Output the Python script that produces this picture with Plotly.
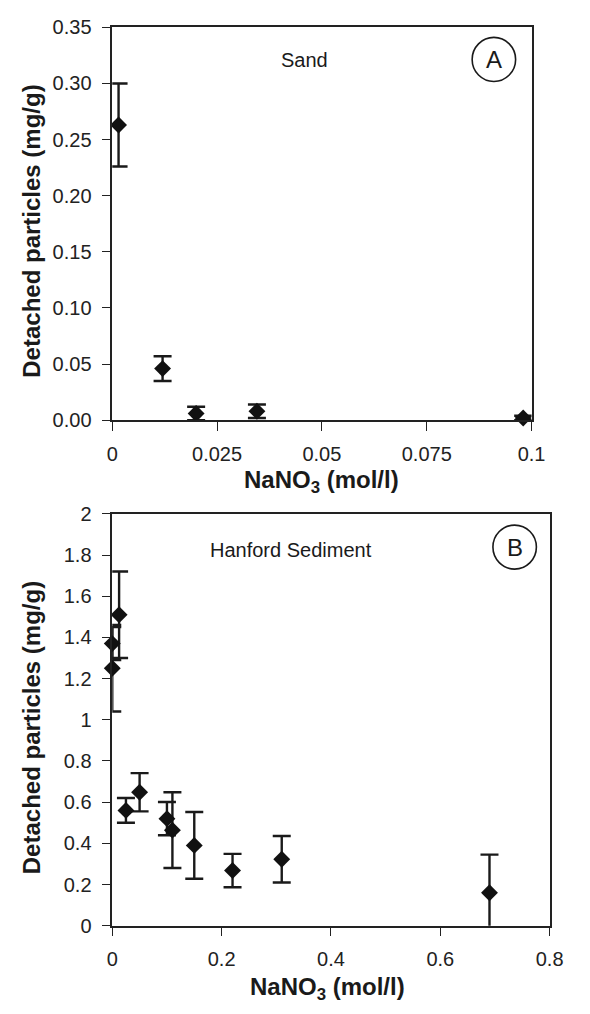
import plotly.graph_objects as go

# Panel A: Sand
sand_x = [0.0015, 0.012, 0.020, 0.0345, 0.098]
sand_y = [0.263, 0.046, 0.006, 0.008, 0.002]
sand_err = [0.037, 0.011, 0.006, 0.006, 0.002]

# Panel B: Hanford Sediment
hs_x = [0.0, 0.0, 0.0125, 0.025, 0.05, 0.10, 0.11, 0.15, 0.22, 0.31, 0.69]
hs_y = [1.37, 1.25, 1.51, 0.56, 0.648, 0.52, 0.464, 0.39, 0.268, 0.323, 0.16]
hs_err = [0.08, 0.21, 0.21, 0.06, 0.093, 0.081, 0.184, 0.162, 0.081, 0.113, 0.185]

a_xticks = [0, 0.025, 0.05, 0.075, 0.1]
a_xticktext = ["0", "0.025", "0.05", "0.075", "0.1"]
a_yticks = [0, 0.05, 0.10, 0.15, 0.20, 0.25, 0.30, 0.35]
b_xticks = [0, 0.2, 0.4, 0.6, 0.8]
b_yticks = [0, 0.2, 0.4, 0.6, 0.8, 1.0, 1.2, 1.4, 1.6, 1.8, 2.0]

W, H = 590, 1014
FONT = "Liberation Sans, Arial, sans-serif"

def px_x(p):
    return p / W

def px_y(p):
    return 1 - p / H

fig = go.Figure()

marker = dict(symbol="diamond", size=13, color="#111111")
errstyle = dict(type="data", visible=True, thickness=2.4, width=9, color="#1a1a1a")

fig.add_trace(go.Scatter(x=sand_x, y=sand_y, mode="markers", marker=marker,
                         error_y=dict(array=sand_err, **errstyle),
                         xaxis="x", yaxis="y", showlegend=False, cliponaxis=False))
fig.add_trace(go.Scatter(x=hs_x, y=hs_y, mode="markers", marker=marker,
                         error_y=dict(array=hs_err, **errstyle),
                         xaxis="x2", yaxis="y2", showlegend=False, cliponaxis=False))

axis_common = dict(showgrid=False, zeroline=False, showline=True, mirror=True,
                   linecolor="#222222", linewidth=1.5, ticks="outside", ticklen=9,
                   tickwidth=1.2, tickcolor="#222222",
                   tickfont=dict(family=FONT, size=20, color="#222222"),
                   ticklabelstandoff=6)

fig.update_layout(
    width=W, height=H, autosize=False,
    margin=dict(l=0, r=0, t=0, b=0),
    paper_bgcolor="white", plot_bgcolor="white",
    xaxis=dict(domain=[px_x(110), px_x(544)], range=[0, 0.1], anchor="y",
               tickvals=a_xticks, ticktext=a_xticktext, **axis_common),
    yaxis=dict(domain=[px_y(418.3), px_y(16.7)], range=[0, 0.35], anchor="x",
               tickvals=a_yticks, tickformat=".2f", **axis_common),
    xaxis2=dict(domain=[px_x(110), px_x(562.7)], range=[0, 0.8], anchor="y2",
                tickvals=b_xticks, **axis_common),
    yaxis2=dict(domain=[px_y(935), px_y(514)], range=[0, 2], anchor="x2",
                tickvals=b_yticks, **axis_common),
)

title_font = dict(family=FONT, size=24, color="#1a1a1a")
label_font = dict(family=FONT, size=20, color="#1a1a1a")

annotations = [
    dict(text="<b>Detached particles (mg/g)</b>", textangle=-90, x=px_x(26), y=px_y(225.5)),
    dict(text="<b>Detached particles (mg/g)</b>", textangle=-90, x=px_x(26), y=px_y(733)),
    dict(text="<b>NaNO<sub>3</sub> (mol/l)</b>", x=px_x(327), y=px_y(481)),
    dict(text="<b>NaNO<sub>3</sub> (mol/l)</b>", x=px_x(333), y=px_y(999)),
]
for a in annotations:
    a.update(xref="paper", yref="paper", showarrow=False, xanchor="center",
             yanchor="middle", font=title_font)

annotations += [
    dict(text="Sand", x=px_x(309), y=px_y(50), font=label_font),
    dict(text="Hanford Sediment", x=px_x(295), y=px_y(551), font=label_font),
    dict(text="A", x=px_x(505), y=px_y(49.5), font=dict(family=FONT, size=24, color="#1a1a1a")),
    dict(text="B", x=px_x(526.5), y=px_y(548), font=dict(family=FONT, size=24, color="#1a1a1a")),
]
for a in annotations[4:]:
    a.update(xref="paper", yref="paper", showarrow=False, xanchor="center", yanchor="middle")

fig.update_layout(annotations=annotations)

shapes = []
for cx, cy in [(505, 49.5), (526.5, 548)]:
    shapes.append(dict(type="circle", xref="paper", yref="paper",
                       x0=px_x(cx - 22.5), x1=px_x(cx + 22.5),
                       y0=px_y(cy + 22.5), y1=px_y(cy - 22.5),
                       line=dict(color="#1a1a1a", width=1.6)))
fig.update_layout(shapes=shapes)

fig.write_html("out.html")
